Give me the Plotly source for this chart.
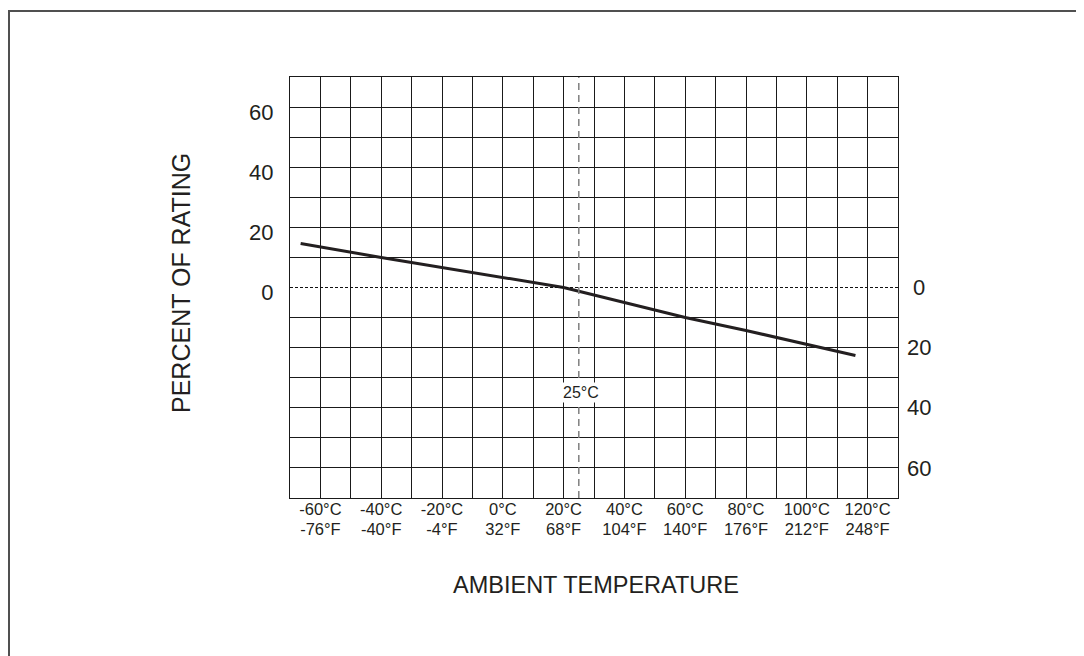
import plotly.graph_objects as go

# Data
temp_c = [-66.5, -40, 20, 40, 60, 80, 100, 116]
pct_rating = [14.6, 10, 0, -5, -10, -14.3, -18.9, -22.6]

x_tick_vals = [-60, -50, -40, -30, -20, -10, 0, 10, 20, 30, 40, 50, 60, 70, 80, 90, 100, 110, 120]
x_tick_c = ["-60°C", "", "-40°C", "", "-20°C", "", "0°C", "", "20°C", "", "40°C", "",
            "60°C", "", "80°C", "", "100°C", "", "120°C"]
x_tick_f = ["-76°F", "", "-40°F", "", "-4°F", "", "32°F", "", "68°F", "", "104°F", "",
            "140°F", "", "176°F", "", "212°F", "", "248°F"]
left_tick_vals = [0, 20, 40, 60]
left_tick_text = ["0", "20", "40", "60"]
right_tick_vals = [0, -20, -40, -60]
right_tick_text = ["\u20080", "20", "40", "60"]
y_grid_vals = [-60, -50, -40, -30, -20, -10, 10, 20, 30, 40, 50, 60]
ref_temp = 25

FONT = "Liberation Sans, Arial, Helvetica, sans-serif"
INK = "#231f20"

# page body has an 8px margin -> offsets
L, T = 282, 69
PW, PH = 608, 421
W, H = 1084, 656
R = W - L - PW
B = H - T - PH


def px_x(px):
    return (px - 8 - L) / PW


def px_y(py):
    return (T + PH - (py - 8)) / PH


fig = go.Figure()
fig.add_trace(go.Scatter(x=temp_c, y=pct_rating, mode="lines",
                         line=dict(color=INK, width=3), showlegend=False, hoverinfo="skip"))
fig.add_trace(go.Scatter(x=temp_c, y=pct_rating, mode="lines", xaxis="x2", yaxis="y2",
                         line=dict(color="rgba(0,0,0,0)", width=0), showlegend=False, hoverinfo="skip"))

fig.update_layout(
    width=W, height=H,
    margin=dict(l=L, r=R, t=T, b=B),
    paper_bgcolor="white", plot_bgcolor="white",
    font=dict(family=FONT, color=INK),
    xaxis=dict(range=[-70, 130], tickvals=x_tick_vals, ticktext=x_tick_c,
               showgrid=True, gridcolor="#1a1a1a", gridwidth=1, zeroline=False,
               showline=True, linecolor="#1a1a1a", linewidth=1, mirror=True,
               ticks="", tickfont=dict(size=16.5, family=FONT, color=INK), ticklabelstandoff=-4),
    xaxis2=dict(range=[-70, 130], overlaying="x", side="bottom", tickvals=x_tick_vals,
                ticktext=x_tick_f, showgrid=False, zeroline=False, showline=False,
                ticks="", tickfont=dict(size=16.5, family=FONT, color=INK), ticklabelstandoff=19),
    yaxis=dict(range=[-70, 70], tickvals=left_tick_vals, ticktext=left_tick_text,
               showgrid=False, zeroline=False,
               minor=dict(tickvals=y_grid_vals, showgrid=True, gridcolor="#1a1a1a", gridwidth=1, ticks=""),
               showline=True, linecolor="#1a1a1a", linewidth=1, mirror=True,
               ticks="", tickfont=dict(size=22, family=FONT, color=INK),
               ticklabelstandoff=11, ticklabelshift=5),
    yaxis2=dict(range=[-70, 70], overlaying="y", side="right", tickvals=right_tick_vals,
                ticktext=right_tick_text, showgrid=False, zeroline=False, ticks="",
                tickfont=dict(size=22, family=FONT, color=INK), ticklabelstandoff=8),
    shapes=[
        dict(type="line", xref="paper", yref="y", x0=0, x1=1, y0=0, y1=0,
             line=dict(color="#111", width=1, dash="3px,2px")),
        dict(type="line", xref="x", yref="paper", x0=ref_temp, x1=ref_temp, y0=0, y1=1,
             line=dict(color="#808080", width=1.5, dash="7px,5px")),
        dict(type="rect", xref="paper", yref="paper",
             x0=px_x(9), x1=px_x(1100), y0=px_y(670), y1=px_y(11),
             line=dict(color="#505050", width=2), fillcolor="rgba(0,0,0,0)", layer="below"),
    ],
    annotations=[
        dict(x=ref_temp, y=-35, xref="x", yref="y", text="25°C", showarrow=False, xshift=2,
             xanchor="center", yanchor="middle",
             bgcolor="white", borderpad=1, font=dict(size=16, family=FONT, color=INK)),
        dict(x=px_x(181), y=px_y(283), xref="paper", yref="paper",
             xanchor="center", yanchor="middle",
             text="PERCENT OF RATING", textangle=-90, showarrow=False,
             font=dict(size=25, family=FONT, color=INK)),
        dict(x=px_x(596), y=px_y(585), xref="paper", yref="paper",
             xanchor="center", yanchor="middle",
             text="AMBIENT TEMPERATURE", showarrow=False,
             font=dict(size=23.5, family=FONT, color=INK)),
    ],
)

fig.write_html("out.html")
